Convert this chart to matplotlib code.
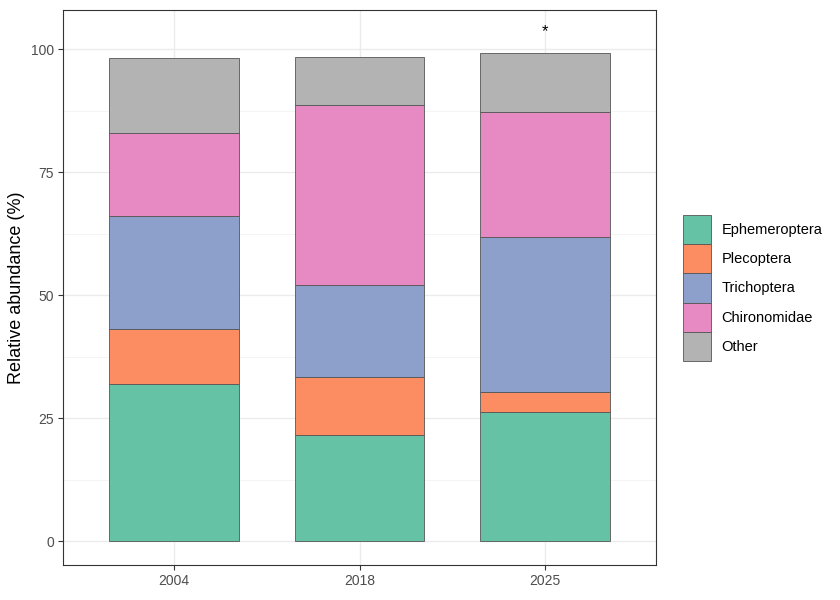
import matplotlib.pyplot as plt
import numpy as np

plt.rcParams['font.family'] = ['Liberation Sans', 'DejaVu Sans']

years = ['2004', '2018', '2025']
taxa = ['Ephemeroptera', 'Plecoptera', 'Trichoptera', 'Chironomidae', 'Other']
ephemeroptera = [32.0, 21.6, 26.2]
plecoptera = [11.1, 11.9, 4.1]
trichoptera = [23.0, 18.7, 31.5]
chironomidae = [16.8, 36.5, 25.5]
other = [15.3, 9.8, 12.0]
colors = ['#66C2A5', '#FC8D62', '#8DA0CB', '#E78AC3', '#B3B3B3']
star_year = '2025'
star_y = 104.1

values = [ephemeroptera, plecoptera, trichoptera, chironomidae, other]

fig = plt.figure(figsize=(8.4, 6), dpi=100)
ax = fig.add_axes([63 / 840, 35 / 600, 593 / 840, 555 / 600])

x = np.arange(1, len(years) + 1)
bottom = np.zeros(len(years))
for name, vals, col in zip(taxa, values, colors):
    ax.bar(x, vals, width=0.7, bottom=bottom, color=col, edgecolor='#555555',
           linewidth=0.6, label=name, zorder=3)
    bottom += np.array(vals)

# significance marker; '*' glyph sits high in its box, so nudge down
ax.annotate('*', (x[years.index(star_year)], star_y), xytext=(0, -2), textcoords='offset points',
            ha='center', va='center', fontsize=12, zorder=4)

ax.set_xlim(0.4, 3.6)
ax.set_ylim(-4.8, 108.0)
ax.set_xticks(x)
ax.set_xticklabels(years)
ax.set_yticks([0, 25, 50, 75, 100])
ax.set_yticks([12.5, 37.5, 62.5, 87.5], minor=True)
ax.grid(True, which='major', color='#EBEBEB', linewidth=1.0, zorder=0)
ax.grid(True, which='minor', axis='y', color='#F2F2F2', linewidth=0.6, zorder=0)
ax.tick_params(axis='both', which='major', labelsize=10, labelcolor='#4D4D4D',
               color='#333333', length=3.5, width=0.8, pad=3)
ax.tick_params(axis='both', which='minor', length=0)
for s in ax.spines.values():
    s.set_color('#333333')
    s.set_linewidth(0.8)
ax.set_ylabel('Relative abundance (%)', fontsize=13, labelpad=4)

h, l = ax.get_legend_handles_labels()
fig.legend(h, l, loc='center left', bbox_to_anchor=(683 / 840, 312 / 600), frameon=False,
           fontsize=10.5, handlelength=1.95, handleheight=2.7, handletextpad=0.7,
           labelspacing=0.0, borderaxespad=0, borderpad=0)

fig.savefig('out.png', dpi=100)
